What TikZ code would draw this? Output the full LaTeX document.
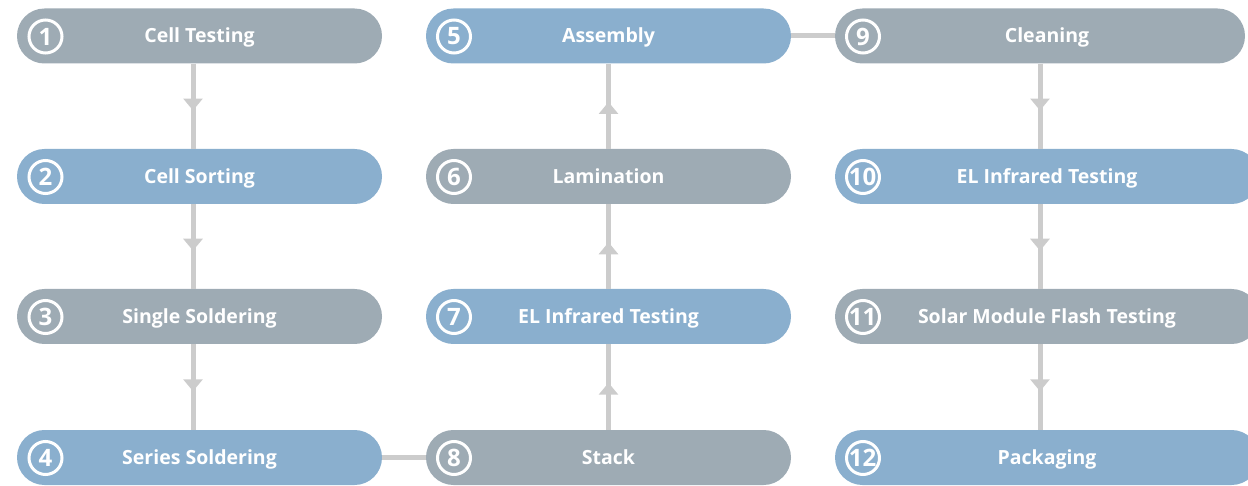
\documentclass[tikz,border=0pt]{standalone}
\usepackage{fontspec}
\setmainfont{Open Sans}
\usetikzlibrary{arrows.meta,decorations.markings}
\definecolor{boxgray}{HTML}{9EABB4}
\definecolor{boxblue}{HTML}{8AAFCE}
\definecolor{linkgray}{HTML}{CCCCCC}
\begin{document}
\begin{tikzpicture}[x=1pt,y=-1pt,
  stepbox/.style={rectangle, rounded corners=27.4pt, minimum height=55pt, inner sep=0pt,
    text height=16pt, text depth=2pt,
    text=white, font=\bfseries\fontsize{19.5}{19.5}\selectfont},
  graybox/.style={stepbox, fill=boxgray},
  bluebox/.style={stepbox, fill=boxblue},
  numcirc/.style={circle, draw=white, line width=3pt, minimum size=33pt, inner sep=0pt,
    text=white, font=\bfseries\fontsize{24}{24}\selectfont},
  link/.style={draw=linkgray, line width=5pt},
  arrowlink/.style={link, decoration={markings, mark=at position 0.55 with
    {\arrow[linkgray]{Triangle[width=19pt,length=12pt]}}}, postaction=decorate}
]
\useasboundingbox (0,0) rectangle (1248,486);
\clip (0,0) rectangle (1248,486);
% column 1
\node[graybox, minimum width=365pt] (n1) at (199.5,36) {Cell Testing};
\node[bluebox, minimum width=365pt] (n2) at (199.5,176.5) {Cell Sorting};
\node[graybox, minimum width=365pt] (n3) at (199.5,316.5) {Single Soldering};
\node[bluebox, minimum width=365pt] (n4) at (199.5,457.5) {Series Soldering};
% column 2
\node[bluebox, minimum width=365pt] (n5) at (608.5,36) {Assembly};
\node[graybox, minimum width=365pt] (n6) at (608.5,176.5) {Lamination};
\node[bluebox, minimum width=365pt] (n7) at (608.5,316.5) {EL Infrared Testing};
\node[graybox, minimum width=365pt] (n8) at (608.5,457.5) {Stack};
% column 3
\node[graybox, minimum width=410pt, text width=396pt, align=center] (n9) at (1040,36) {\hspace*{14pt}Cleaning};
\node[bluebox, minimum width=424pt] (n10) at (1047,176.5) {EL Infrared Testing};
\node[graybox, minimum width=424pt] (n11) at (1047,316.5) {Solar Module Flash Testing};
\node[bluebox, minimum width=424pt] (n12) at (1047,457.5) {Packaging};
% numbers
\node[numcirc] (c1) at (45.5,36.5) {1};
\node[numcirc] (c2) at (45.5,177) {2};
\node[numcirc] (c3) at (45.5,317) {3};
\node[numcirc] (c4) at (45.5,458) {4};
\node[numcirc] (c5) at (454,36.5) {5};
\node[numcirc] (c6) at (454,177) {6};
\node[numcirc] (c7) at (454,317) {7};
\node[numcirc] (c8) at (454,458) {8};
\node[numcirc] (c9) at (863,36.5) {9};
\node[numcirc] (c10) at (863,177) {\kern-1pt 10};
\node[numcirc] (c11) at (863,317) {\kern-1pt 11};
\node[numcirc] (c12) at (863,458) {\kern-1pt 12};
% connectors
\draw[arrowlink] ([xshift=-6.5pt]n1.south) -- ([xshift=-6.5pt]n2.north);
\draw[arrowlink] ([xshift=-6.5pt]n2.south) -- ([xshift=-6.5pt]n3.north);
\draw[arrowlink] ([xshift=-6.5pt]n3.south) -- ([xshift=-6.5pt]n4.north);
\draw[link] (n4.east) -- (n8.west);
\draw[arrowlink] (n8.north) -- (n7.south);
\draw[arrowlink] (n7.north) -- (n6.south);
\draw[arrowlink] (n6.north) -- (n5.south);
\draw[link] (n5.east) -- (n9.west);
\draw[arrowlink] (n9.south) -- ([xshift=-7pt]n10.north);
\draw[arrowlink] ([xshift=-7pt]n10.south) -- ([xshift=-7pt]n11.north);
\draw[arrowlink] ([xshift=-7pt]n11.south) -- ([xshift=-7pt]n12.north);
\end{tikzpicture}
\end{document}
